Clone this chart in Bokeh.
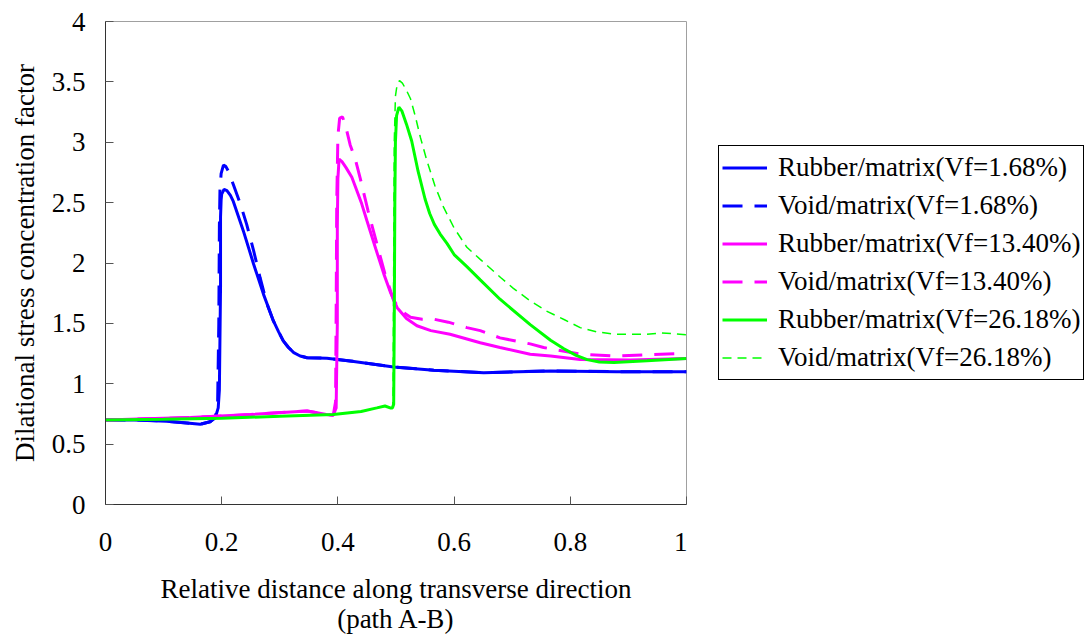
from bokeh.plotting import figure
from bokeh.layouts import row
from bokeh.models import Range1d, FixedTicker, Legend, LegendItem
from bokeh.embed import file_html
from bokeh.resources import INLINE

# ---- data ----
rubber_168_x = [0, 0.05, 0.105, 0.14, 0.163, 0.180, 0.189, 0.194, 0.196, 0.198, 0.198, 0.199, 0.200, 0.204, 0.209,
                0.215, 0.220, 0.237, 0.255, 0.272, 0.289, 0.298, 0.306, 0.315, 0.324, 0.335, 0.347, 0.381, 0.421,
                0.496, 0.565, 0.651, 0.766, 0.88, 1.0]
rubber_168_y = [0.70, 0.70, 0.69, 0.675, 0.664, 0.685, 0.72, 0.80, 0.95, 1.80, 2.38, 2.52, 2.57, 2.61, 2.60,
                2.56, 2.51, 2.27, 1.99, 1.74, 1.52, 1.43, 1.355, 1.30, 1.258, 1.23, 1.216, 1.211, 1.189,
                1.139, 1.112, 1.092, 1.106, 1.10, 1.10]

void_168_x = [0, 0.05, 0.105, 0.14, 0.163, 0.180, 0.189, 0.193, 0.195, 0.196, 0.197, 0.199, 0.203, 0.207,
              0.2115, 0.220, 0.232, 0.243, 0.255, 0.266, 0.278, 0.289, 0.298, 0.306, 0.315, 0.324, 0.335, 0.347,
              0.381, 0.421, 0.496, 0.565, 0.651, 0.766, 0.88, 1.0]
void_168_y = [0.70, 0.70, 0.69, 0.675, 0.664, 0.685, 0.72, 0.85, 1.5, 2.3, 2.6, 2.74, 2.81, 2.80,
              2.76, 2.65, 2.49, 2.32, 2.10, 1.88, 1.66, 1.52, 1.43, 1.355, 1.30, 1.258, 1.23, 1.216,
              1.211, 1.189, 1.139, 1.112, 1.092, 1.106, 1.10, 1.10]

rubber_1340_x = [0, 0.07, 0.146, 0.25, 0.347, 0.364, 0.38, 0.392, 0.397, 0.399, 0.399, 0.400, 0.402, 0.407,
                 0.414, 0.424, 0.441, 0.450, 0.465, 0.479, 0.491, 0.502, 0.518, 0.536, 0.560, 0.593, 0.645,
                 0.679, 0.731, 0.766, 0.817, 0.903, 1.0]
rubber_1340_y = [0.70, 0.71, 0.72, 0.745, 0.775, 0.76, 0.745, 0.74, 0.80, 1.5, 2.3, 2.7, 2.86, 2.84,
                 2.79, 2.71, 2.49, 2.35, 2.12, 1.91, 1.75, 1.63, 1.54, 1.48, 1.44, 1.41, 1.34,
                 1.30, 1.245, 1.23, 1.20, 1.197, 1.21]

void_1340_x = [0, 0.07, 0.146, 0.25, 0.347, 0.364, 0.38, 0.392, 0.396, 0.397, 0.398, 0.400, 0.403, 0.408,
               0.415, 0.421, 0.430, 0.438, 0.452, 0.467, 0.481, 0.496, 0.510, 0.525, 0.545, 0.565, 0.590,
               0.622, 0.645, 0.679, 0.731, 0.754, 0.817, 0.875, 0.93, 0.99, 1.0]
void_1340_y = [0.70, 0.71, 0.72, 0.745, 0.775, 0.76, 0.745, 0.74, 0.85, 1.6, 2.5, 3.05, 3.20, 3.21,
               3.10, 2.98, 2.86, 2.71, 2.43, 2.16, 1.91, 1.69, 1.60, 1.55, 1.535, 1.535, 1.51,
               1.465, 1.44, 1.38, 1.33, 1.30, 1.245, 1.23, 1.24, 1.25, 1.25]

rubber_2618_x = [0, 0.1, 0.2, 0.3, 0.392, 0.44, 0.467, 0.481, 0.490, 0.494, 0.496, 0.497, 0.498, 0.499, 0.501,
                 0.505, 0.510, 0.518, 0.527, 0.538, 0.550, 0.558, 0.566, 0.576, 0.588, 0.600, 0.622, 0.645,
                 0.679, 0.731, 0.766, 0.789, 0.810, 0.829, 0.850, 0.875, 0.932, 1.0]
rubber_2618_y = [0.70, 0.705, 0.715, 0.73, 0.745, 0.77, 0.80, 0.816, 0.80, 0.80, 0.83, 1.5, 2.5, 3.0, 3.22,
                 3.29, 3.26, 3.15, 3.01, 2.76, 2.53, 2.41, 2.32, 2.24, 2.16, 2.07, 1.97, 1.86,
                 1.70, 1.49, 1.36, 1.29, 1.235, 1.20, 1.18, 1.175, 1.19, 1.21]

void_2618_x = [0, 0.1, 0.2, 0.3, 0.392, 0.44, 0.467, 0.481, 0.490, 0.494, 0.495, 0.496, 0.497, 0.499, 0.502,
               0.506, 0.511, 0.518, 0.525, 0.533, 0.542, 0.553, 0.567, 0.582, 0.600, 0.622, 0.645, 0.680,
               0.702, 0.730, 0.760, 0.790, 0.817, 0.845, 0.875, 0.932, 0.955, 0.975, 1.0]
void_2618_y = [0.70, 0.705, 0.715, 0.73, 0.745, 0.77, 0.80, 0.816, 0.80, 0.80, 0.9, 2.0, 3.0, 3.38, 3.48,
               3.51, 3.49, 3.43, 3.36, 3.22, 3.04, 2.85, 2.64, 2.46, 2.29, 2.13, 2.03, 1.88,
               1.79, 1.69, 1.60, 1.53, 1.465, 1.43, 1.41, 1.41, 1.42, 1.415, 1.405]

series_labels = ["Rubber/matrix(Vf=1.68%)", "Void/matrix(Vf=1.68%)",
                 "Rubber/matrix(Vf=13.40%)", "Void/matrix(Vf=13.40%)",
                 "Rubber/matrix(Vf=26.18%)", "Void/matrix(Vf=26.18%)"]

x_ticks = [0, 0.2, 0.4, 0.6, 0.8, 1]
x_tick_labels = ["0", "0.2", "0.4", "0.6", "0.8", "1"]
y_ticks = [0, 0.5, 1, 1.5, 2, 2.5, 3, 3.5, 4]
y_tick_labels = ["0", "0.5", "1", "1.5", "2", "2.5", "3", "3.5", "4"]

FONT = "Liberation Serif"
FS = "27px"

BLUE = "#0000FF"
MAG = "#FF00FF"
GRN = "#00FF00"
styles = [dict(line_color=BLUE, line_width=3),
          dict(line_color=BLUE, line_width=3, line_dash="20 12"),
          dict(line_color=MAG, line_width=3),
          dict(line_color=MAG, line_width=3, line_dash="20 12"),
          dict(line_color=GRN, line_width=3),
          dict(line_color=GRN, line_width=1.5, line_dash="9 6")]
series = [(rubber_168_x, rubber_168_y), (void_168_x, void_168_y),
          (rubber_1340_x, rubber_1340_y), (void_1340_x, void_1340_y),
          (rubber_2618_x, rubber_2618_y), (void_2618_x, void_2618_y)]

# ---- main chart ----
p = figure(width=687, height=639, output_backend="svg", toolbar_location=None,
           x_range=Range1d(0, 1), y_range=Range1d(0, 4),
           min_border_left=105, min_border_right=1, min_border_top=21, min_border_bottom=135)
p.background_fill_color = "white"
p.border_fill_color = "white"
p.outline_line_color = "#a0a0a0"
p.outline_line_width = 1
p.xgrid.visible = False
p.ygrid.visible = False

for ax in (p.xaxis[0], p.yaxis[0]):
    ax.axis_line_color = "#333333"
    ax.axis_line_width = 1
    ax.major_tick_in = 8
    ax.major_tick_out = 0
    ax.major_tick_line_color = "#555555"
    ax.minor_tick_line_color = None
    ax.major_label_text_font = FONT
    ax.major_label_text_font_size = FS
    ax.major_label_text_color = "black"
    ax.axis_label_text_font = FONT
    ax.axis_label_text_font_size = FS
    ax.axis_label_text_font_style = "normal"
    ax.axis_label_text_color = "black"

p.xaxis.ticker = FixedTicker(ticks=x_ticks)
p.xaxis.major_label_overrides = {t: l for t, l in zip(x_ticks, x_tick_labels)}
p.yaxis.ticker = FixedTicker(ticks=y_ticks)
p.yaxis.major_label_overrides = {t: l for t, l in zip(y_ticks, y_tick_labels)}
p.xaxis.major_label_standoff = 28
p.yaxis.major_label_standoff = 20
p.xaxis.axis_label = "Relative distance along transverse direction\n(path A-B)"
p.yaxis.axis_label = "Dilational stress concentration factor"
p.xaxis.axis_label_text_line_height = 1.0
p.xaxis.axis_label_standoff = 20
p.yaxis.axis_label_standoff = 9

for (xs, ys), st in zip(series, styles):
    p.line(xs, ys, **st)

# ---- legend panel: a second figure to the right; its copies of the series are hidden,
# they only supply the legend samples ----
lg = figure(width=404, height=639, output_backend="svg", toolbar_location=None,
            x_range=Range1d(0, 1), y_range=Range1d(0, 4),
            min_border_left=0, min_border_right=0, min_border_top=21, min_border_bottom=135)
lg.axis.visible = False
lg.grid.visible = False
lg.outline_line_color = None
lg.background_fill_color = "white"
lg.border_fill_color = "white"
samples = []
for (xs, ys), st in zip(series, styles):
    r = lg.line(xs, ys, **st)
    r.visible = False
    samples.append(r)

items = [LegendItem(label=lab, renderers=[r]) for lab, r in zip(series_labels, samples)]
legend = Legend(items=items, location=(31, 124), padding=3, spacing=1, margin=0,
                label_height=37, glyph_height=37, glyph_width=45, label_standoff=11,
                border_line_color="black", border_line_width=1, border_line_alpha=1,
                background_fill_color="white", background_fill_alpha=1,
                inactive_fill_alpha=0,
                label_text_font=FONT, label_text_font_size=FS, label_text_color="black")
lg.add_layout(legend)

layout = row(p, lg, spacing=0)
open("out.html", "w").write(file_html(layout, INLINE))
